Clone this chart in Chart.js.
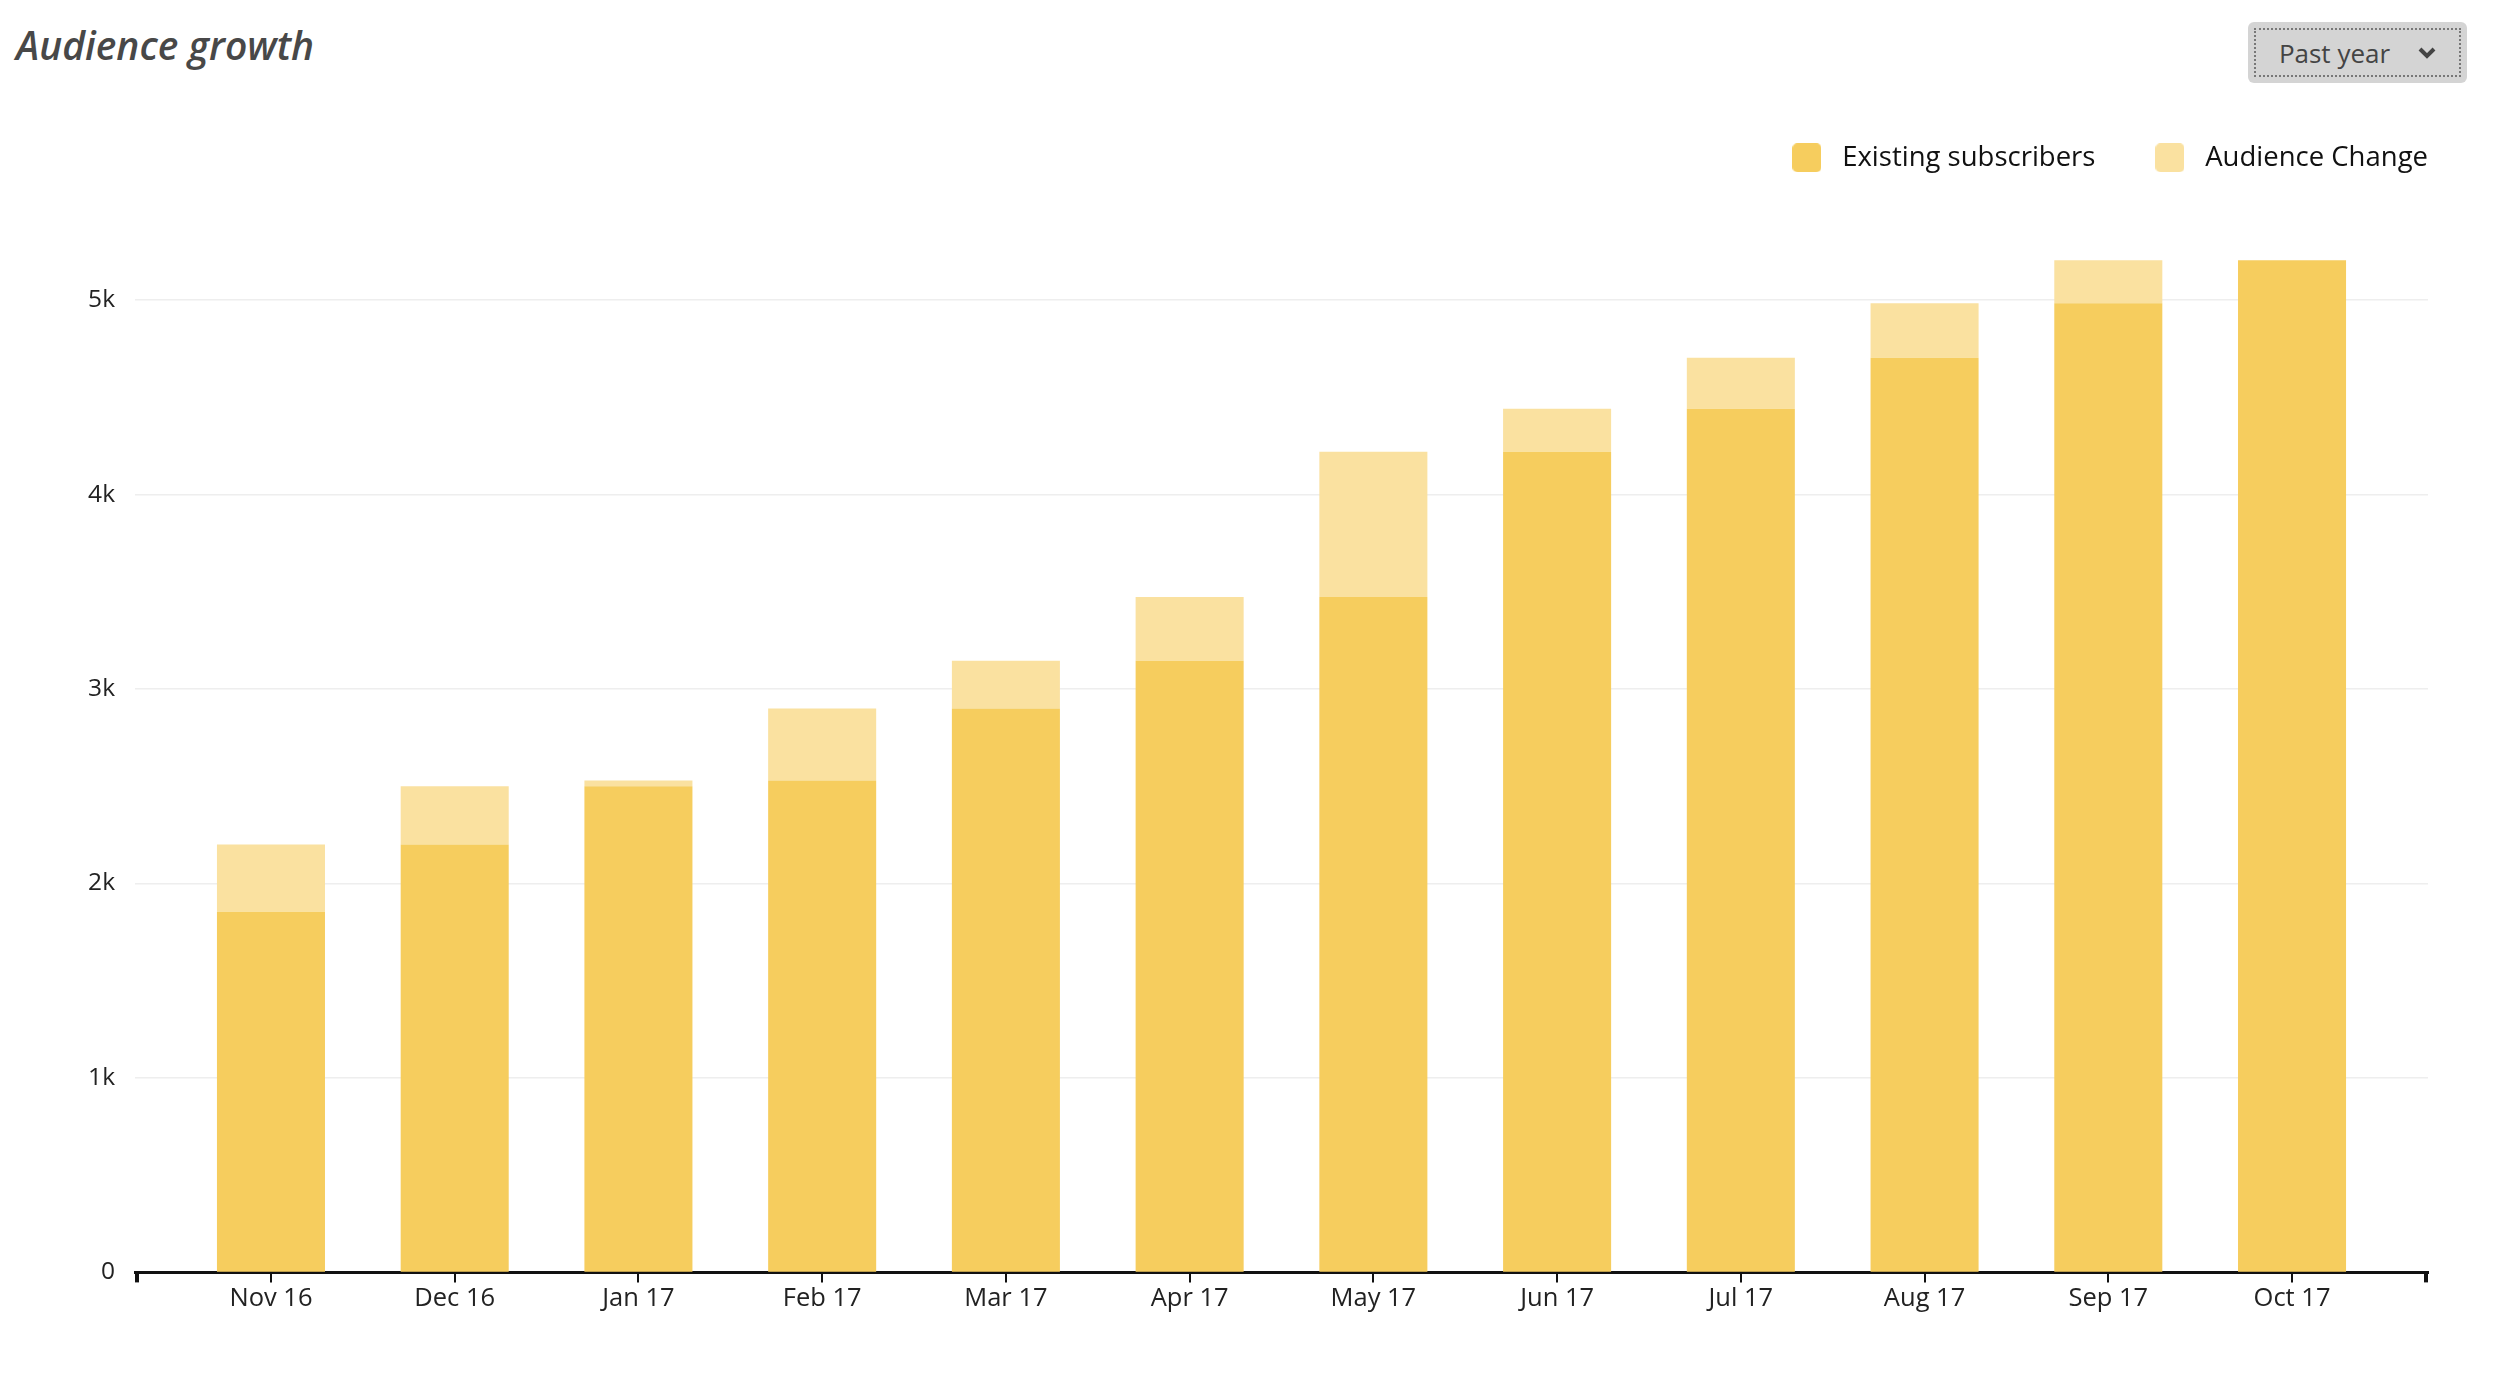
<!DOCTYPE html>
<html>
<head>
<meta charset="utf-8">
<script src="https://cdn.jsdelivr.net/npm/chart.js@4.4.1/dist/chart.umd.min.js"></script>
<style>
  html, body { margin: 0; padding: 0; background: #fff; }
  body { width: 2500px; height: 1378px; position: relative; overflow: hidden; font-family: "Open Sans", sans-serif; }
  .title {
    position: absolute; left: 16px; top: 17px;
    font-size: 39px; font-style: italic; font-weight: 600; color: #484848;
    line-height: 56px; margin: 0;
  }
  .range {
    position: absolute; left: 2248px; top: 22px; width: 219px; height: 61px;
    background: #d4d4d4; border-radius: 6px; box-sizing: border-box;
  }
  .range .inner {
    position: absolute; left: 6px; top: 6px; right: 6px; bottom: 6px;
    border: 2px dotted #777; display: flex; align-items: center; justify-content: center;
    font-size: 26px; color: #444; gap: 28px;
  }
  .wrap { position: absolute; left: 0; top: 0; width: 2500px; height: 1378px; }
</style>
</head>
<body>
<h1 class="title">Audience growth</h1>
<div class="range"><div class="inner"><span>Past year</span>
  <svg width="18" height="12" viewBox="0 0 18 12"><polyline points="2,2 9,9 16,2" fill="none" stroke="#444" stroke-width="4"/></svg>
</div></div>
<div class="wrap"><canvas id="chart"></canvas></div>
<script>
// months shown on the x axis
const months = ["Nov 16", "Dec 16", "Jan 17", "Feb 17", "Mar 17", "Apr 17",
                "May 17", "Jun 17", "Jul 17", "Aug 17", "Sep 17", "Oct 17"];
// subscribers at start of month
const existing = [1855, 2200, 2500, 2530, 2900, 3145, 3473, 4220, 4442, 4704, 4984, 5205];
// growth during the month (stacked on top)
const change = [345, 300, 30, 370, 245, 328, 747, 222, 262, 280, 221, 0];
// y axis ticks
const yTicks = [0, 1000, 2000, 3000, 4000, 5000];

const existingColor = "#f6cd5e";
const changeColor = "#fae1a0";

// rounded legend swatch (gives a wider gap before the label text)
function swatch(color) {
  const c = document.createElement("canvas");
  c.width = 29; c.height = 29;
  const g = c.getContext("2d");
  g.fillStyle = color;
  g.beginPath();
  g.roundRect(0, 0, 29, 29, 5);
  g.fill();
  return c;
}

// little end caps on the x axis line
const axisEnds = {
  id: "axisEnds",
  afterDraw(chart) {
    const { ctx, chartArea } = chart;
    ctx.save();
    ctx.strokeStyle = "#111";
    ctx.lineWidth = 4;
    [chartArea.left + 2, chartArea.right - 2].forEach(x => {
      ctx.beginPath();
      ctx.moveTo(x, chartArea.bottom);
      ctx.lineTo(x, chartArea.bottom + 10);
      ctx.stroke();
    });
    ctx.restore();
  }
};

Chart.defaults.font.family = "'Open Sans', sans-serif";
Chart.defaults.color = "#222";

new Chart(document.getElementById("chart"), {
  type: "bar",
  data: {
    labels: months,
    datasets: [
      {
        label: "Existing subscribers",
        data: existing,
        backgroundColor: existingColor,
        pointStyle: swatch(existingColor),
        categoryPercentage: 1,
        barPercentage: 0.588
      },
      {
        label: "Audience Change",
        data: change,
        backgroundColor: changeColor,
        pointStyle: swatch(changeColor),
        categoryPercentage: 1,
        barPercentage: 0.588
      }
    ]
  },
  options: {
    responsive: true,
    maintainAspectRatio: false,
    animation: false,
    layout: { padding: { top: 91, right: 19, bottom: 63, left: 0 } },
    scales: {
      x: {
        stacked: true,
        // wider side margins than the default half category
        afterUpdate: scale => { scale._startValue = -0.74; scale._valueRange = 12.48; },
        border: { display: true, color: "#111", width: 3 },
        grid: { display: true, drawOnChartArea: false, offset: false, color: "#111", lineWidth: 2, tickLength: 10 },
        ticks: { font: { size: 25.5 }, color: "#222", padding: 1 }
      },
      y: {
        stacked: true,
        min: 0,
        max: 5610,
        afterBuildTicks: axis => { axis.ticks = yTicks.map(v => ({ value: v })); },
        afterFit: scale => { scale.width = 135; },
        border: { display: false },
        grid: { color: "#eeeeee", lineWidth: 1.5, drawTicks: false },
        ticks: {
          autoSkip: false,
          padding: 20,
          font: { size: 24.5 },
          color: "#222",
          callback: v => v === 0 ? "0" : (v / 1000) + "k"
        }
      },
      // empty spacer so the legend can run further right than the plot
      spacer: {
        axis: "y",
        position: "right",
        afterFit: scale => { scale.width = 53; },
        border: { display: false },
        grid: { display: false },
        ticks: { display: false }
      }
    },
    plugins: {
      legend: {
        position: "top",
        align: "end",
        labels: {
          font: { size: 27.5 },
          color: "#111",
          usePointStyle: true,
          pointStyleWidth: 43,
          padding: 53
        }
      },
      tooltip: { enabled: false }
    }
  },
  plugins: [axisEnds]
});
</script>
</body>
</html>
